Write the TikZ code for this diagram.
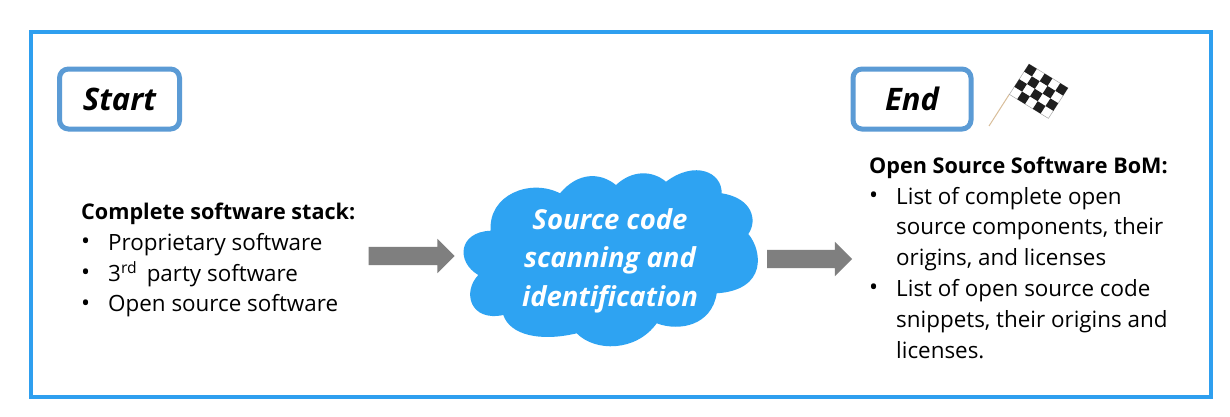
\documentclass[tikz,border=0pt]{standalone}
\usepackage{fontspec}
\setmainfont{Open Sans}
\usetikzlibrary{shapes.arrows}
\definecolor{framecol}{HTML}{2E9FEF}
\definecolor{boxcol}{HTML}{5B9BD5}
\definecolor{cloudcol}{HTML}{2EA3F2}
\definecolor{arrowcol}{HTML}{7F7F7F}
\definecolor{polecol}{HTML}{D9BE9A}
\newcommand{\bul}{\makebox[27pt][l]{\raisebox{0.5pt}{\fontsize{24}{24}\selectfont\textbullet}}}
\newcommand{\ind}{\hspace*{27pt}}
\newcommand{\hd}[1]{{\fontsize{21.6}{30.8}\selectfont\textbf{#1}}}
\tikzset{
  x=1pt,y=-1pt,
  titlebox/.style={draw=boxcol,line width=5pt,rounded corners=9pt,fill=white,minimum height=60pt,font=\fontsize{31}{34}\selectfont\bfseries\itshape,inner sep=0pt},
  blockarrow/.style={single arrow,fill=arrowcol,draw=none,minimum width=34pt,single arrow head extend=8pt,inner xsep=0pt,inner ysep=9pt},
  listtext/.style={anchor=north west,align=left,inner sep=0pt,font=\fontsize{22.4}{30.8}\selectfont,text=black},
  cloudtext/.style={align=center,text=white,font=\fontsize{27.5}{38.5}\selectfont\bfseries\itshape,inner sep=0pt},
  flagcell/.style={fill=black!88},
}
\begin{document}
\begin{tikzpicture}
\useasboundingbox (0,0) rectangle (1230,416);
\fill[white] (0,0) rectangle (1230,416);
\draw[framecol,line width=4pt] (31,32) rectangle (1211,397);

\node[titlebox,minimum width=120pt] (start) at (119.5,99) {Start};
\node[titlebox,minimum width=118pt] (end) at (912,99) {End};

% flag
\draw[polecol,line width=1pt] (1009.5,94) -- (989,126);
\draw[gray!70,line width=0.5pt,fill=white] (1029,64) -- (1068,88) -- (1048.4,118.4) -- (1009.4,94.4) -- cycle;
\foreach \i in {0,...,4}{\foreach \j in {0,...,3}{
  \pgfmathparse{int(mod(\i+\j,2))}
  \ifnum\pgfmathresult=0
    \pgfmathsetmacro{\xa}{1029+7.8*\i-4.9*\j}
    \pgfmathsetmacro{\ya}{64+4.8*\i+7.6*\j}
    \fill[flagcell] (\xa,\ya) -- ++(7.8,4.8) -- ++(-4.9,7.6) -- ++(-7.8,-4.8) -- cycle;
  \fi
}}

\node[listtext] (stack) at (81,202.7) {\hd{Complete software stack:}\\
\bul Proprietary software\\
\bul 3\textsuperscript{rd}\, party software\\
\bul Open source software};

\node[listtext] (bom) at (869,156.5) {\hd{Open Source Software BoM:}\\
\bul List of complete open\\
\ind source components, their\\
\ind origins, and licenses\\
\bul List of open source code\\
\ind snippets, their origins and\\
\ind licenses.};

% cloud
\fill[cloudcol] (478.3,275)
  .. controls (456,262) and (458,232) .. (490.7,230.7)
  .. controls (488,195) and (530,178) .. (560,193.3)
  .. controls (578,172) and (600,172) .. (616,185)
  .. controls (632,170) and (652,170) .. (666,181.7)
  .. controls (695,160) and (722,172) .. (721.7,193.3)
  .. controls (752,198) and (758,220) .. (748.3,234)
  .. controls (762,250) and (768,290) .. (716.7,293.3)
  .. controls (712,325) and (680,332) .. (656.7,323.3)
  .. controls (636,352) and (595,352) .. (576.7,333.3)
  .. controls (540,342) and (510,335) .. (503.3,315)
  .. controls (470,322) and (462,292) .. (478.3,275) -- cycle;
\node[cloudtext] (scan) at (610,260.5) {Source code\\scanning and\\identification};

\node[blockarrow,minimum height=86pt] (a1) at (407,256) {};
\node[blockarrow,minimum height=85pt] (a2) at (805,259) {};
\end{tikzpicture}
\end{document}
